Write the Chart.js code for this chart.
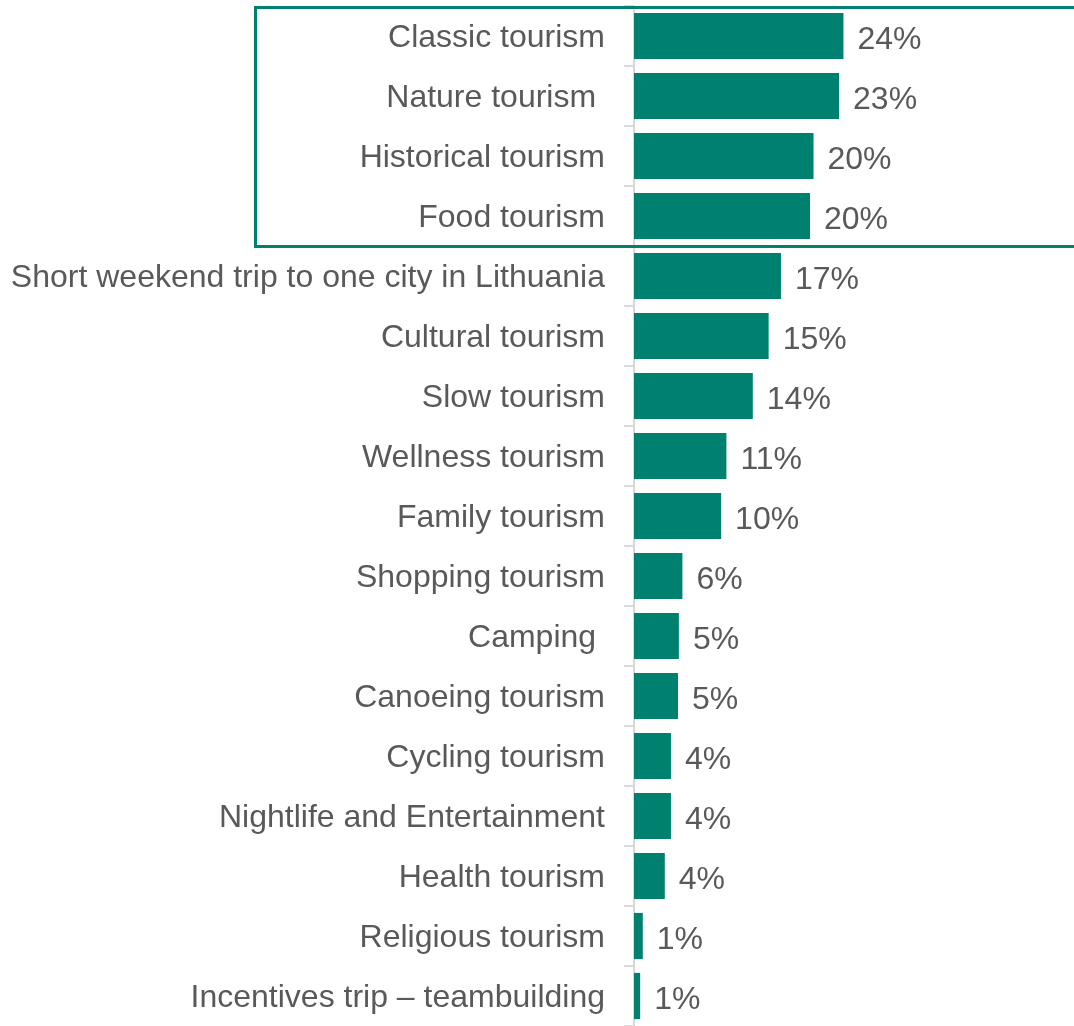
<!DOCTYPE html>
<html>
<head>
<meta charset="utf-8">
<script src="https://cdn.jsdelivr.net/npm/chart.js@4/dist/chart.umd.min.js"></script>
<style>
  html, body { margin: 0; padding: 0; background: #fff; }
  #wrap { width: 1074px; height: 1026px; position: relative; }
</style>
</head>
<body>
<div id="wrap"><canvas id="chart"></canvas></div>
<script>
// Preferred types of tourism, share of respondents (%)
const categories = [
  "Classic tourism",
  "Nature tourism ",
  "Historical tourism",
  "Food tourism",
  "Short weekend trip to one city in Lithuania",
  "Cultural tourism",
  "Slow tourism",
  "Wellness tourism",
  "Family tourism",
  "Shopping tourism",
  "Camping ",
  "Canoeing tourism",
  "Cycling tourism",
  "Nightlife and Entertainment",
  "Health tourism",
  "Religious tourism",
  "Incentives trip \u2013 teambuilding",
];
const shares = [23.8, 23.3, 20.4, 20.0, 16.7, 15.3, 13.5, 10.5, 9.9, 5.5, 5.1, 5.0, 4.2, 4.2, 3.5, 1.0, 0.7];
const highlighted = 4; // top rows framed by the box

const TEAL = "#00806e";
const TEXT = "#595959";
const FONT = "'Liberation Sans', Arial, sans-serif";

const valueLabels = {
  id: "valueLabels",
  afterDatasetsDraw(chart) {
    const ctx = chart.ctx;
    const meta = chart.getDatasetMeta(0);
    ctx.save();
    ctx.font = "32px " + FONT;
    ctx.fillStyle = TEXT;
    ctx.textAlign = "left";
    ctx.textBaseline = "middle";
    meta.data.forEach((bar, i) => {
      ctx.fillText(Math.round(shares[i]) + "%", bar.x + 14, bar.y + 4);
    });
    ctx.restore();
  },
};

// frame around the leading group, open on the right side
const topFrame = {
  id: "topFrame",
  afterDraw(chart) {
    const ctx = chart.ctx;
    const y = chart.scales.y;
    const half = (y.getPixelForValue(1) - y.getPixelForValue(0)) / 2;
    const top = y.getPixelForValue(0) - half + 1.5;
    const bottom = y.getPixelForValue(highlighted - 1) + half + 0.5;
    const left = 255.5;
    ctx.save();
    ctx.strokeStyle = TEAL;
    ctx.lineWidth = 3;
    ctx.beginPath();
    ctx.moveTo(chart.width, top);
    ctx.lineTo(left, top);
    ctx.lineTo(left, bottom);
    ctx.lineTo(chart.width, bottom);
    ctx.stroke();
    ctx.restore();
  },
};

const ctx = document.getElementById("chart").getContext("2d");
const chart = new Chart(ctx, {
  type: "bar",
  data: {
    labels: categories,
    datasets: [
      {
        data: shares,
        backgroundColor: TEAL,
        borderWidth: 0,
        categoryPercentage: 1,
        barPercentage: 0.77,
      },
    ],
  },
  options: {
    indexAxis: "y",
    responsive: true,
    maintainAspectRatio: false,
    animation: false,
    layout: { padding: { top: 6, left: 0, right: 0, bottom: 0 } },
    plugins: {
      legend: { display: false },
      tooltip: { enabled: false },
    },
    scales: {
      x: {
        display: false,
        min: 0,
        max: 50,
      },
      y: {
        afterFit(scale) {
          scale.width = 634;
          // labels sit inside their rows, no extra room needed above/below
          scale.paddingTop = 0;
          scale.paddingBottom = 0;
        },
        grid: {
          drawOnChartArea: false,
          drawTicks: true,
          tickLength: 10,
          color: "#d9d9d9",
          lineWidth: 2,
        },
        border: { display: true, color: "#d9d9d9", width: 2 },
        ticks: {
          color: TEXT,
          padding: 19,
          labelOffset: 2,
          autoSkip: false,
          font: { family: FONT, size: 32 },
        },
      },
    },
  },
  plugins: [valueLabels, topFrame],
});
</script>
</body>
</html>
